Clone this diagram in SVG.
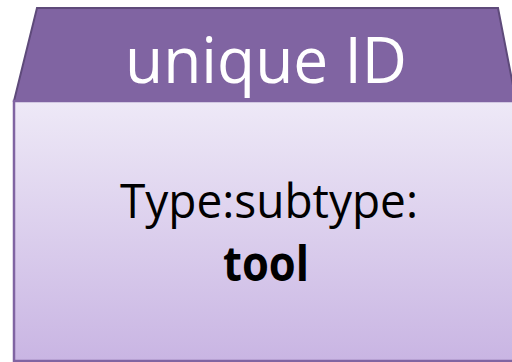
<svg xmlns="http://www.w3.org/2000/svg" width="512" height="362" viewBox="0 0 512 362">
<defs>
<linearGradient id="body" x1="0" y1="0" x2="0" y2="1">
<stop offset="0" stop-color="#EEE9F7"/>
<stop offset="1" stop-color="#C9B5E3"/>
</linearGradient>
<style>
.hdr{fill:#8064A2;stroke:#5E4A7A;stroke-width:2;stroke-linejoin:miter}
.box{fill:url(#body);stroke:#8064A2;stroke-width:2.5}
.t{font-family:"Open Sans","Liberation Sans",sans-serif;text-anchor:middle}
</style>
</defs>
<g id="node-tool">
<polygon class="hdr" points="37,8 498,8 516,101 14,101"/>
<rect class="box" x="14" y="101" width="510" height="260"/>
<text class="t" x="266" y="83" font-size="64" fill="#FFFFFF" textLength="282" lengthAdjust="spacingAndGlyphs">unique ID</text>
<text class="t" x="269" y="218" font-size="48" fill="#000000" textLength="298" lengthAdjust="spacingAndGlyphs">Type:subtype:</text>
<text class="t" x="266" y="281" font-size="48" font-weight="bold" fill="#000000" textLength="86" lengthAdjust="spacingAndGlyphs">tool</text>
</g>
<g id="connectors"/>
</svg>
